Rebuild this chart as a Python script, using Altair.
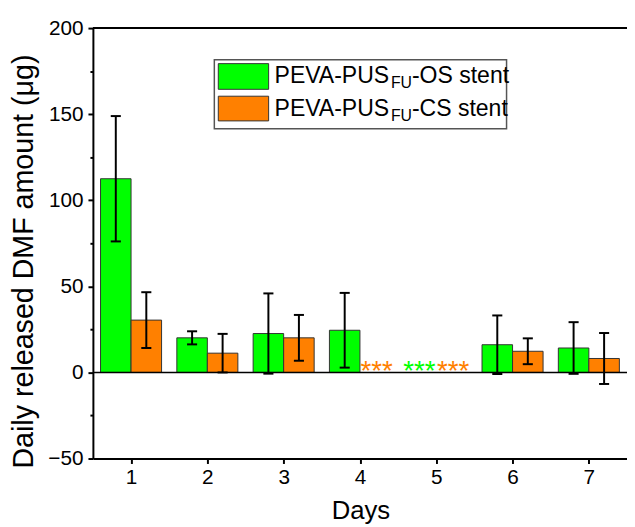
import altair as alt
import pandas as pd

# ---- data ----
days = [1, 2, 3, 4, 5, 6, 7]
os_mean = [112.5, 20.1, 22.6, 24.5, None, 16.1, 14.2]
os_sd = [36.4, 3.8, 23.3, 21.7, None, 17.0, 15.0]
cs_mean = [30.4, 11.2, 20.1, None, None, 12.3, 8.1]
cs_sd = [16.2, 11.2, 13.3, None, None, 7.5, 14.8]
series_names = ["OS", "CS"]
series_colors = ["#00FF00", "#FF8000"]
star_days = [4, 5, 5]
star_series = ["CS", "OS", "CS"]
y_ticks = [-50, -25, 0, 25, 50, 75, 100, 125, 150, 175, 200]
x_ticks = [1, 2, 3, 4, 5, 6, 7]

rows = []
for d, m, s in zip(days, os_mean, os_sd):
    rows.append({"Day": d, "series": "OS", "mean": m, "sd": s})
for d, m, s in zip(days, cs_mean, cs_sd):
    rows.append({"Day": d, "series": "CS", "mean": m, "sd": s})
df = pd.DataFrame(rows)
stars = pd.DataFrame({"Day": star_days, "series": star_series, "val": [0] * len(star_days)})

FONT = "Liberation Sans"
BW = 0.4

xscale = alt.Scale(domain=[0.5, 7.5], nice=False, zero=False)
yscale = alt.Scale(domain=[-50, 200], nice=False)
cscale = alt.Scale(domain=series_names, range=series_colors)

base = alt.Chart(df).transform_filter("isValid(datum.mean)").transform_calculate(
    x0=f"datum.series == 'OS' ? datum.Day - {BW} : datum.Day",
    x1=f"datum.series == 'OS' ? datum.Day : datum.Day + {BW}",
    xc=f"datum.series == 'OS' ? datum.Day - {BW/2} : datum.Day + {BW/2}",
    lo="datum.mean - datum.sd",
    hi="datum.mean + datum.sd",
    cl=f"(datum.series == 'OS' ? datum.Day - {BW/2} : datum.Day + {BW/2}) - 0.066",
    cr=f"(datum.series == 'OS' ? datum.Day - {BW/2} : datum.Day + {BW/2}) + 0.066",
)

bars = base.mark_bar(stroke="#333333", strokeWidth=1).encode(
    x=alt.X("x0:Q", scale=xscale,
            axis=alt.Axis(values=x_ticks, title="Days", format="d",
                          labelFontSize=21, labelFont=FONT, labelColor="black",
                          labelPadding=3, tickSize=5, tickWidth=2, tickColor="black",
                          domainColor="black", domainWidth=2, grid=False,
                          titleFont=FONT, titleFontSize=26, titleFontWeight="normal",
                          titleColor="black", titleBaseline="alphabetic",
                          titleX=271, titleY=61, titleAnchor="middle", titleAlign="center")),
    x2="x1:Q",
    y=alt.Y("mean:Q", scale=yscale,
            axis=alt.Axis(values=y_ticks, title="Daily released DMF amount (\u03bcg)",
                          labelExpr="datum.value % 50 == 0 ? datum.label : ''",
                          labelFontSize=21, labelFont=FONT, labelColor="black",
                          labelPadding=5,
                          tickSize={"condition": {"test": "datum.value % 50 != 0", "value": 3}, "value": 5},
                          tickWidth=2, tickColor="black",
                          domainColor="black", domainWidth=2, grid=False,
                          titleFont=FONT, titleFontSize=29, titleFontWeight="normal",
                          titleColor="black", titleBaseline="alphabetic",
                          titleAngle=-90, titleX=-61, titleY=236, titleAlign="center")),
    y2=alt.datum(0),
    color=alt.Color("series:N", scale=cscale, legend=None),
)

err = base.mark_rule(color="black", strokeWidth=2).encode(
    x="xc:Q", y="lo:Q", y2="hi:Q")
cap_hi = base.mark_rule(color="black", strokeWidth=2).encode(
    x="cl:Q", x2="cr:Q", y="hi:Q")
cap_lo = base.mark_rule(color="black", strokeWidth=2).encode(
    x="cl:Q", x2="cr:Q", y="lo:Q")

zero_line = alt.Chart(pd.DataFrame({"z": [0]})).mark_rule(color="black", strokeWidth=1.5).encode(
    y=alt.Y("z:Q", scale=yscale))
top_line = alt.Chart(pd.DataFrame({"z": [0]})).mark_rule(color="black", strokeWidth=2).encode(
    y=alt.value(0))

star_text = alt.Chart(stars).transform_calculate(
    xs="datum.series == 'OS' ? datum.Day - 0.22 : datum.Day + 0.22"
).mark_text(text="***", font=FONT, fontSize=28, baseline="alphabetic", align="center", dy=8).encode(
    x=alt.X("xs:Q", scale=xscale),
    y=alt.Y("val:Q", scale=yscale),
    color=alt.Color("series:N", scale=cscale, legend=None),
)

# ---- manual legend (supports subscript) ----
leg_df = pd.DataFrame({"k": [0]})
leg_box = alt.Chart(leg_df).mark_rect(fill="white", stroke="#555555", strokeWidth=1.5).encode(
    x=alt.value(123), x2=alt.value(419), y=alt.value(32), y2=alt.value(102))
sw1 = alt.Chart(leg_df).mark_rect(fill=series_colors[0], stroke="#333333", strokeWidth=1).encode(
    x=alt.value(127), x2=alt.value(178), y=alt.value(36), y2=alt.value(62))
sw2 = alt.Chart(leg_df).mark_rect(fill=series_colors[1], stroke="#333333", strokeWidth=1).encode(
    x=alt.value(127), x2=alt.value(178), y=alt.value(69), y2=alt.value(94))

F1, F2 = 23.3, 16
w_main = 5.057 * F1
w_sub = 1.333 * F2

def leg_text(txt, x, y, size):
    return alt.Chart(leg_df).mark_text(text=txt, font=FONT, fontSize=size, align="left",
                                       baseline="alphabetic", color="black").encode(
        x=alt.value(x), y=alt.value(y))

leg_texts = []
for yb, tail in [(56, "-OS stent"), (89, "-CS stent")]:
    leg_texts.append(leg_text("PEVA-PUS", 184, yb, F1))
    leg_texts.append(leg_text("FU", 184 + w_main, yb + 5, F2))
    leg_texts.append(leg_text(tail, 184 + w_main + w_sub, yb, F1))

chart = alt.layer(
    bars, err, cap_hi, cap_lo, zero_line, top_line, star_text,
    leg_box, sw1, sw2, *leg_texts
).properties(
    width=541, height=436,
    autosize="none",
    padding={"left": 86, "top": 17, "right": 0, "bottom": 66},
    background="white",
).configure_view(stroke=None)

chart.save("out.html", embed_options={"renderer": "svg", "actions": False})
